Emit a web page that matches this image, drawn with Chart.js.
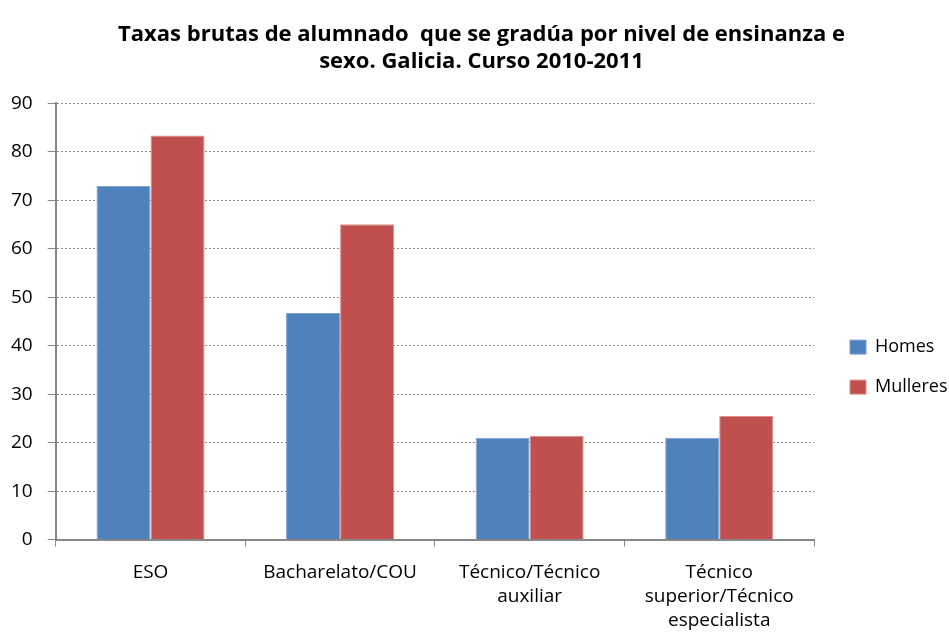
<!DOCTYPE html>
<html>
<head>
<meta charset="utf-8">
<script src="https://cdn.jsdelivr.net/npm/chart.js@4.4.1/dist/chart.umd.min.js"></script>
<style>
  html, body { margin: 0; padding: 0; background: #fff; }
  #wrap { width: 949px; height: 633px; }
</style>
</head>
<body>
<div id="wrap"><canvas id="chart" width="949" height="633"></canvas></div>
<script>
const categories = [
    'ESO',
    'Bacharelato/COU',
    ['Técnico/Técnico', 'auxiliar'],
    ['Técnico', 'superior/Técnico', 'especialista']
];
const homes = [72.9, 46.7, 21.0, 21.0];
const mulleres = [83.3, 65.0, 21.4, 25.5];
const yTicks = [0, 10, 20, 30, 40, 50, 60, 70, 80, 90];

const FONT = "'Open Sans', Lato, Arial, sans-serif";

const data = {
    labels: categories,
    datasets: [{
        label: 'Homes',
        data: homes,
        backgroundColor: '#4F81BD',
        borderColor: '#7FA2CF',
        borderWidth: 1
    }, {
        label: 'Mulleres',
        data: mulleres,
        backgroundColor: '#C0504D',
        borderColor: '#D9908E',
        borderWidth: 1
    }]
};

const config = {
    type: 'bar',
    data: data,
    options: {
        responsive: false,
        animation: false,
        devicePixelRatio: 1,
        layout: { padding: { left: -4, right: 2, top: 16, bottom: -14 } },
        datasets: {
            bar: { categoryPercentage: 0.57, barPercentage: 1.0 }
        },
        plugins: {
            title: {
                display: true,
                text: ['Taxas brutas de alumnado  que se gradúa por nivel de ensinanza e', 'sexo. Galicia. Curso 2010-2011'],
                color: '#000',
                font: { family: FONT, size: 22, weight: 'bold', lineHeight: 1.23 },
                padding: { top: 5, bottom: 28 }
            },
            legend: {
                position: 'right',
                align: 'center',
                title: { display: true, text: ' ', font: { size: 1 }, padding: { top: 35, bottom: 35 } },
                labels: {
                    color: '#000',
                    font: { family: FONT, size: 18 },
                    boxWidth: 16,
                    boxHeight: 14,
                    padding: 22
                }
            },
            tooltip: { enabled: false }
        },
        scales: {
            x: {
                offset: true,
                grid: {
                    offset: true,
                    drawOnChartArea: false,
                    drawTicks: true,
                    tickLength: 7,
                    color: '#888'
                },
                border: { color: '#888', width: 2 },
                ticks: {
                    color: '#000',
                    font: { family: FONT, size: 19, lineHeight: 1.27 },
                    maxRotation: 0,
                    padding: 14
                }
            },
            y: {
                min: 0,
                max: 90,
                afterBuildTicks: axis => { axis.ticks = yTicks.map(v => ({ value: v })); },
                grid: {
                    color: '#8c8c8c',
                    tickColor: '#888',
                    tickLength: 8,
                    drawTicks: true
                },
                border: { color: '#888', width: 2, dash: [2, 2] },
                ticks: {
                    color: '#000',
                    font: { family: FONT, size: 19 },
                    padding: 15
                }
            }
        }
    },
    plugins: [{
        // fixed legend column width so the plot ends where the original does
        id: 'legendWidth',
        beforeLayout(chart) {
            const lg = chart.legend;
            if (lg && !lg._patched) {
                const fit = lg.fit.bind(lg);
                lg.fit = function () { fit(); this.width = 133; };
                lg._patched = true;
            }
        },
        afterLayout(chart) {
            const lg = chart.legend;
            lg.left += 14;
            lg.right += 14;
            // title in the original is centred a little right of the canvas middle
            const tb = chart.titleBlock;
            tb.left += 10;
            tb.right += 10;
        }
    }]
};

const chart = new Chart(document.getElementById('chart'), config);
</script>
</body>
</html>
